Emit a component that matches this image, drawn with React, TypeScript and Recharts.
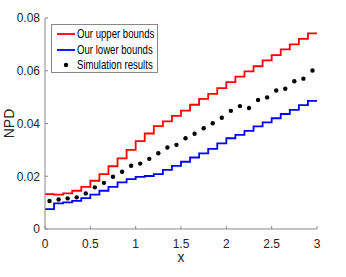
import React from 'react';
import { ComposedChart, Line, Scatter, XAxis, YAxis, Legend } from 'recharts';

const stepX = [0, 0.1, 0.2, 0.3, 0.4, 0.5, 0.6, 0.7, 0.8, 0.9, 1.0, 1.1, 1.2, 1.3, 1.4, 1.5, 1.6, 1.7, 1.8, 1.9, 2.0, 2.1, 2.2, 2.3, 2.4, 2.5, 2.6, 2.7, 2.8, 2.9, 3.0];
const upperBounds = [0.0132, 0.013, 0.0135, 0.0145, 0.016, 0.0183, 0.0208, 0.0238, 0.0268, 0.03, 0.0333, 0.0362, 0.039, 0.0408, 0.0429, 0.0449, 0.0471, 0.0493, 0.0512, 0.0534, 0.0557, 0.0578, 0.0598, 0.0617, 0.0639, 0.0659, 0.0681, 0.07, 0.0721, 0.0742];
const lowerBounds = [0.0075, 0.0097, 0.0101, 0.0107, 0.0117, 0.013, 0.0145, 0.016, 0.0177, 0.0189, 0.0198, 0.0201, 0.0208, 0.0224, 0.0239, 0.0255, 0.0271, 0.0287, 0.0304, 0.0325, 0.0344, 0.0357, 0.0372, 0.0389, 0.0404, 0.042, 0.0436, 0.0452, 0.047, 0.0486];
const simX = [0.05, 0.15, 0.25, 0.35, 0.45, 0.55, 0.65, 0.75, 0.85, 0.95, 1.05, 1.15, 1.25, 1.35, 1.45, 1.55, 1.65, 1.75, 1.85, 1.95, 2.05, 2.15, 2.25, 2.35, 2.45, 2.55, 2.65, 2.75, 2.85, 2.95];
const simResults = [0.0106, 0.0112, 0.0116, 0.012, 0.0135, 0.0158, 0.0175, 0.0198, 0.0217, 0.024, 0.0248, 0.0266, 0.0287, 0.0309, 0.0319, 0.0344, 0.0361, 0.0382, 0.0401, 0.0422, 0.0448, 0.0466, 0.0459, 0.0489, 0.0499, 0.0525, 0.0532, 0.056, 0.057, 0.0601];
const xTicks = [0, 0.5, 1, 1.5, 2, 2.5, 3];
const yTicks = [0, 0.02, 0.04, 0.06, 0.08];
const seriesNames = ['Our upper bounds', 'Our lower bounds', 'Simulation results'];

const stepData = stepX.map((x, i) => ({
  x,
  upper: upperBounds[Math.min(i, upperBounds.length - 1)],
  lower: lowerBounds[Math.min(i, lowerBounds.length - 1)],
}));
const simData = simX.map((x, i) => ({ x, y: simResults[i] }));

const AXIS = '#888888';
const FONT = "'Liberation Sans', Arial, sans-serif";

const Dot = (props: any) => <circle cx={props.cx} cy={props.cy} r={2.2} fill="#000" />;

const LegendText = ({ y, label }: { y: number; label: string }) => (
  <text transform={`translate(26 ${y}) scale(0.8 1)`} fontSize={12} fontFamily={FONT} fill="#000">
    {label}
  </text>
);

const renderLegend = () => (
  <svg width={108} height={50} style={{ display: 'block' }}>
    <rect x={0.5} y={0.5} width={106} height={48} fill="#fff" stroke={AXIS} strokeWidth={1} />
    <line x1={6} x2={24} y1={10} y2={10} stroke="#ff0000" strokeWidth={1.8} />
    <line x1={6} x2={24} y1={26} y2={26} stroke="#0000ff" strokeWidth={1.8} />
    <circle cx={15} cy={41} r={2.2} fill="#000" />
    <LegendText y={14} label={seriesNames[0]} />
    <LegendText y={30} label={seriesNames[1]} />
    <LegendText y={45} label={seriesNames[2]} />
  </svg>
);

export default function App() {
  return (
    <div style={{ position: 'absolute', left: 0, top: 0, width: 346, height: 277, background: '#fff' }}>
      <ComposedChart width={346} height={277} margin={{ top: 18, right: 29, bottom: 8, left: 5 }}>
        <XAxis
          dataKey="x"
          type="number"
          domain={[0, 3]}
          ticks={xTicks}
          allowDataOverflow
          height={40}
          stroke={AXIS}
          tickSize={-3}
          tickMargin={13}
          tick={{ fill: '#262626', fontSize: 12, fontFamily: FONT }}
          label={{ value: 'x', position: 'insideBottom', offset: 7, fill: '#262626', fontSize: 14, fontFamily: FONT }}
        />
        <XAxis
          xAxisId="top"
          orientation="top"
          type="number"
          domain={[0, 3]}
          ticks={xTicks}
          allowDataOverflow
          height={0}
          stroke={AXIS}
          tickSize={-3}
          tick={false}
        />
        <YAxis
          type="number"
          domain={[0, 0.08]}
          ticks={yTicks}
          allowDataOverflow
          width={40}
          stroke={AXIS}
          tickSize={-3}
          tickMargin={8}
          tick={{ fill: '#262626', fontSize: 12, fontFamily: FONT }}
          label={{
            content: (p: any) => {
              const vb = p.viewBox || {};
              const cy = (vb.y || 0) + (vb.height || 0) / 2;
              return (
                <text x={13.5} y={cy} transform={`rotate(-90 13.5 ${cy})`} textAnchor="middle" fontSize={14} fontFamily={FONT} fill="#262626">
                  NPD
                </text>
              );
            },
          }}
        />
        <YAxis
          yAxisId="right"
          orientation="right"
          type="number"
          domain={[0, 0.08]}
          ticks={yTicks}
          allowDataOverflow
          width={0}
          stroke={AXIS}
          tickSize={-3}
          tick={false}
        />
        <Line data={stepData} dataKey="upper" type="stepAfter" stroke="#ff0000" strokeWidth={1.8} dot={false} activeDot={false} isAnimationActive={false} />
        <Line data={stepData} dataKey="lower" type="stepAfter" stroke="#0000ff" strokeWidth={1.8} dot={false} activeDot={false} isAnimationActive={false} />
        <Scatter data={simData} dataKey="y" shape={<Dot />} isAnimationActive={false} />
        <Legend
          content={renderLegend}
          layout="vertical"
          align="center"
          verticalAlign="middle"
          wrapperStyle={{ left: 51, top: 24, width: 108, height: 50 }}
        />
      </ComposedChart>
    </div>
  );
}
